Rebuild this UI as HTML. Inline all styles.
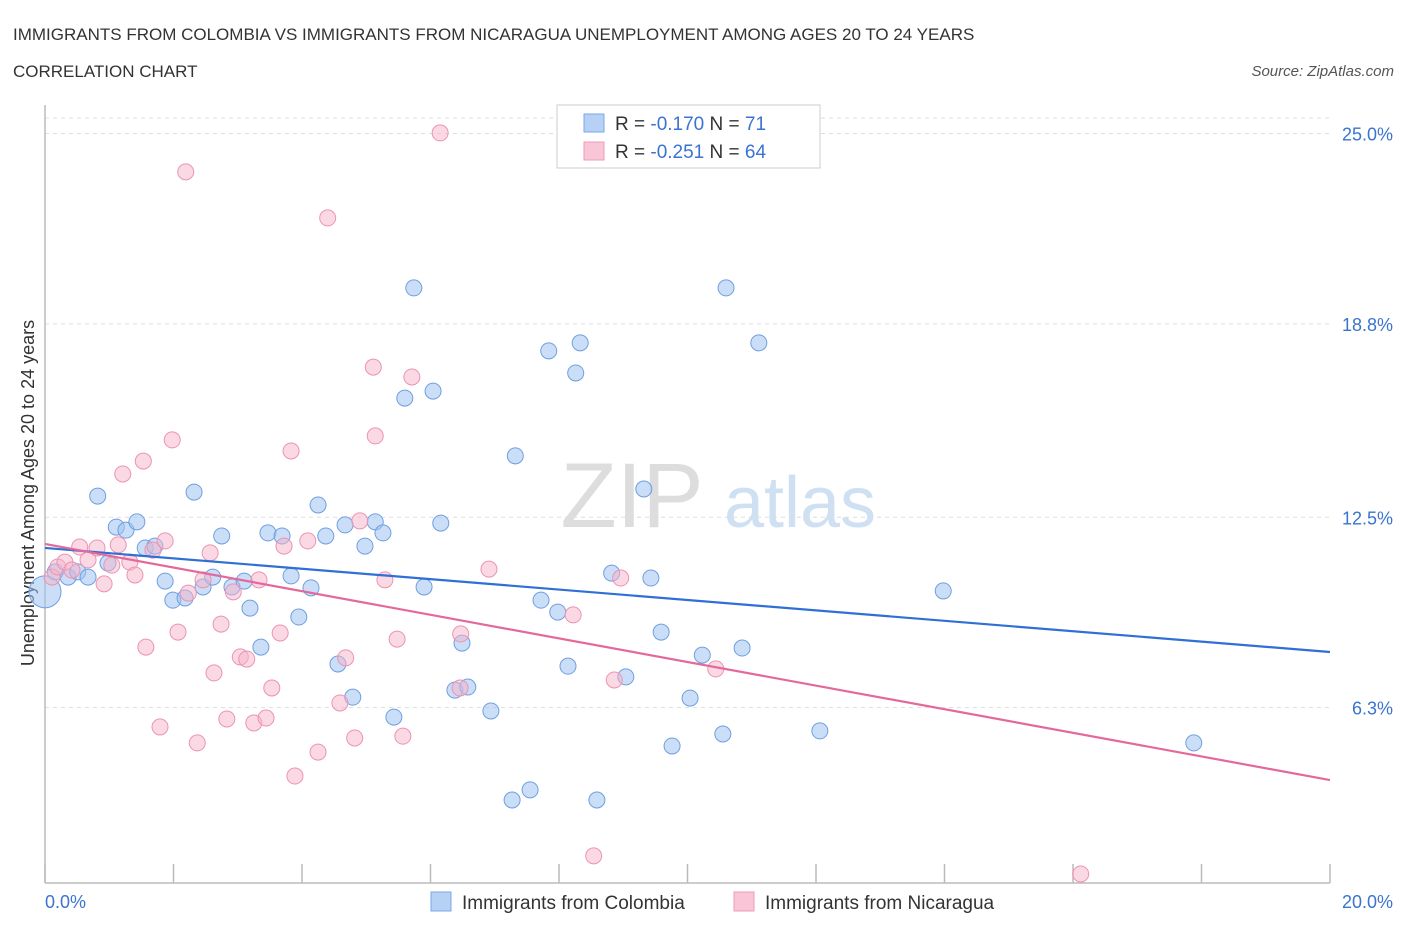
<!DOCTYPE html>
<html><head><meta charset="utf-8">
<style>
body{margin:0;background:#fff;font-family:"Liberation Sans",sans-serif;}
svg text{font-family:"Liberation Sans",sans-serif;}
</style></head>
<body>
<svg id="chart" width="1406" height="930" xmlns="http://www.w3.org/2000/svg">
<text x="13" y="40" font-size="17" fill="#333">IMMIGRANTS FROM COLOMBIA VS IMMIGRANTS FROM NICARAGUA UNEMPLOYMENT AMONG AGES 20 TO 24 YEARS</text>
<text x="13" y="77" font-size="17" fill="#333">CORRELATION CHART</text>
<text x="1394" y="76" font-size="15" fill="#555" text-anchor="end" font-style="italic">Source: ZipAtlas.com</text>
<g>
<text x="632" y="527" font-size="92" fill="#ddd" font-family="Liberation Serif" text-anchor="middle">ZIP</text>
<text x="800" y="527" font-size="72" fill="#cfe0f3" text-anchor="middle">atlas</text>
</g>
<g id="grid"></g>
<g id="axes"></g>
<g id="pts"></g>
<g id="trends"></g>
<g>
<rect x="557" y="105" width="263" height="63" fill="#fff" stroke="#ccc"/>
<rect x="584" y="114" width="20" height="18" fill="#b7d1f5" stroke="#7aa7e6"/>
<rect x="584" y="142" width="20" height="18" fill="#f8c6d6" stroke="#ee9bb6"/>
<text x="615" y="130" font-size="19" fill="#333">R = <tspan fill="#3a74d0">-0.170</tspan>   N =  <tspan fill="#3a74d0">71</tspan></text>
<text x="615" y="158" font-size="19" fill="#333">R = <tspan fill="#3a74d0">-0.251</tspan>   N = <tspan fill="#3a74d0">64</tspan></text>
</g>
<g>
<rect x="431" y="892" width="20" height="19" fill="#b7d1f5" stroke="#7aa7e6"/>
<text x="462" y="909" font-size="19" fill="#333">Immigrants from Colombia</text>
<rect x="734" y="892" width="20" height="19" fill="#f8c6d6" stroke="#ee9bb6"/>
<text x="765" y="909" font-size="19" fill="#333">Immigrants from Nicaragua</text>
</g>
</svg>
<script>
const yTicks=[25.0,18.8,12.5,6.3];
const yTickLabels=["25.0%","18.8%","12.5%","6.3%"];
const xTickVals=[0,2,4,6,8,10,12,14,16,18,20];
const colX=[0,0.16,0.36,0.51,0.67,0.82,0.98,1.11,1.26,1.43,1.56,1.71,1.87,1.99,2.18,2.32,2.46,2.61,2.75,2.91,3.10,3.19,3.36,3.47,3.69,3.83,3.95,4.14,4.25,4.37,4.56,4.67,4.79,4.98,5.14,5.26,5.43,5.60,5.74,5.90,6.04,6.16,6.38,6.49,6.58,6.94,7.32,7.27,7.55,7.72,7.84,7.98,8.14,8.26,8.33,8.59,8.82,9.04,9.32,9.43,9.59,9.76,10.04,10.23,10.55,10.60,10.85,11.11,12.06,13.98,17.88];
const colY=[10.07,10.72,10.55,10.72,10.55,13.19,11.01,12.18,12.08,12.35,11.50,11.56,10.42,9.80,9.87,13.32,10.23,10.55,11.89,10.23,10.42,9.54,8.27,11.99,11.89,10.59,9.25,10.20,12.90,11.89,7.72,12.25,6.64,11.56,12.35,11.99,5.99,16.38,19.97,10.23,16.61,12.31,6.87,8.40,6.97,6.19,14.50,3.29,3.62,9.80,17.92,9.41,7.65,17.20,18.18,3.29,10.68,7.30,13.42,10.52,8.76,5.05,6.61,8.01,5.44,19.97,8.24,18.18,5.54,10.10,5.15];
const nicX=[0.11,0.20,0.31,0.42,0.54,0.67,0.81,0.92,1.04,1.14,1.21,1.32,1.40,1.53,1.57,1.68,1.79,1.87,1.98,2.07,2.19,2.23,2.37,2.46,2.57,2.63,2.74,2.83,2.93,3.04,3.14,3.25,3.33,3.44,3.53,3.66,3.72,3.83,3.89,4.09,4.25,4.40,4.59,4.68,4.82,4.90,5.11,5.14,5.29,5.48,5.57,5.71,6.15,6.47,6.46,6.91,8.22,8.54,8.86,8.96,10.44,16.12];
const nicY=[10.55,10.88,11.04,10.78,11.53,11.11,11.50,10.33,10.94,11.60,13.91,11.04,10.62,14.33,8.27,11.43,5.67,11.73,15.02,8.76,23.75,10.03,5.15,10.46,11.34,7.43,9.02,5.93,10.07,7.95,7.88,5.80,10.46,5.96,6.94,8.73,11.56,14.66,4.07,11.73,4.85,22.25,6.45,7.92,5.31,12.38,17.39,15.15,10.46,8.53,5.37,17.07,25.02,8.70,6.94,10.81,9.32,1.47,7.20,10.52,7.56,0.88];
const colTrend=[11.50,8.11];
const nicTrend=[11.63,3.94];
const NS="http://www.w3.org/2000/svg";
const X=v=>45+v*64.25, Y=v=>901-v*30.7;
function mk(p,t,a){const e=document.createElementNS(NS,t);for(const k in a)e.setAttribute(k,a[k]);p.appendChild(e);return e;}
const grid=document.getElementById('grid'),axes=document.getElementById('axes'),pts=document.getElementById('pts'),tr=document.getElementById('trends');
let g=mk(grid,'line',{x1:45,x2:1330,y1:118,y2:118,stroke:'#ddd','stroke-dasharray':'4,4'});

yTicks.forEach((v,i)=>{
 const l=mk(grid,'line',{x1:45,x2:1330,y1:Y(v),y2:Y(v),stroke:'#ddd','stroke-dasharray':'4,4'});
 
 
 const t=mk(axes,'text',{x:1393,y:Y(v)+7,'font-size':18,fill:'#3a74d0','text-anchor':'end'});
 t.textContent=yTickLabels[i];
 
 
});
let a=mk(axes,'line',{x1:45,x2:45,y1:105,y2:883,stroke:'#bbb','stroke-width':1.5});

a=mk(axes,'line',{x1:45,x2:1330,y1:883,y2:883,stroke:'#bbb','stroke-width':1.5});

xTickVals.forEach(v=>{
 const l=mk(axes,'line',{x1:X(v),x2:X(v),y1:864,y2:883,stroke:'#bbb','stroke-width':1.5});
 
 
});
let t=mk(axes,'text',{x:45,y:908,'font-size':18,fill:'#3a74d0'});t.textContent='0.0%';

t=mk(axes,'text',{x:1393,y:908,'font-size':18,fill:'#3a74d0','text-anchor':'end'});t.textContent='20.0%';

t=mk(axes,'text',{x:34,y:493,'font-size':18,fill:'#333','text-anchor':'middle',transform:'rotate(-90 34 493)'});
t.textContent='Unemployment Among Ages 20 to 24 years';

colX.forEach((v,i)=>{
 const c=mk(pts,'circle',{cx:X(v),cy:Y(colY[i]),r:i==0?16:8,fill:'rgba(160,195,240,0.55)',stroke:'#6f9fe0','stroke-width':1});
 
 
});
nicX.forEach((v,i)=>{
 const c=mk(pts,'circle',{cx:X(v),cy:Y(nicY[i]),r:8,fill:'rgba(245,180,202,0.5)',stroke:'#ec93b1','stroke-width':1});
 
 
});
let L=mk(tr,'line',{x1:X(0),y1:Y(colTrend[0]),x2:X(20),y2:Y(colTrend[1]),stroke:'#2f6fd6','stroke-width':2.2});

L=mk(tr,'line',{x1:X(0),y1:Y(nicTrend[0]),x2:X(20),y2:Y(nicTrend[1]),stroke:'#e4699a','stroke-width':2.2});

</script>
</body></html>
